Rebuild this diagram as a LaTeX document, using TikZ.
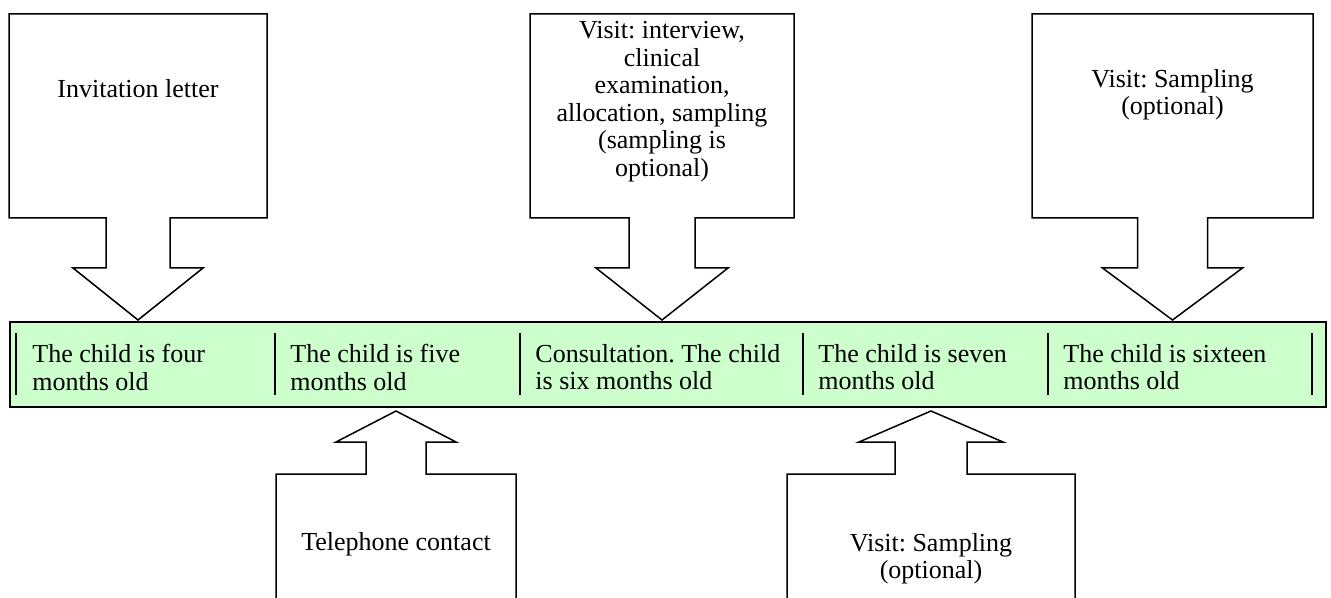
\documentclass[tikz,border=0pt]{standalone}
\usepackage{fontspec}
\setmainfont{Liberation Serif}
\definecolor{barfill}{HTML}{CCFFCC}
\frenchspacing
\begin{document}
\begin{tikzpicture}[x=0.5pt,y=-0.5pt,
  callout/.style={draw=black, line width=0.75pt, fill=white, line join=miter},
  timebar/.style={draw=black, line width=1.2pt, fill=barfill},
  divider/.style={draw=black, line width=1pt},
  lbl/.style={inner sep=0pt, font=\fontsize{13}{13.75}\selectfont, align=center, anchor=north},
  cell/.style={inner sep=0pt, font=\fontsize{13}{13.75}\selectfont, align=left, anchor=north west}]
\useasboundingbox (0,0) rectangle (1331,598);
\clip (0,0) rectangle (1331,598);
% time bar
\draw[timebar] (10,322) rectangle (1326,407);
\foreach \xx in {16,275,520,803,1048,1312}
  \draw[divider] (\xx,333) -- (\xx,395);
\node[cell] (c1) at (32,344) {The child is four\\months old};
\node[cell] (c2) at (290,344) {The child is five\\months old};
\node[cell] (c3) at (535,344) {Consultation. The child\\is six months old};
\node[cell] (c4) at (818,344) {The child is seven\\months old};
\node[cell] (c5) at (1063,344) {The child is sixteen\\months old};
% top callouts
\draw[callout] (9,14) -- (267,14) -- (267,218) -- (170,218) -- (170,268) -- (203,268) -- (138,320) -- (73,268) -- (106,268) -- (106,218) -- (9,218) -- cycle;
\draw[callout] (530,14) -- (794,14) -- (794,218) -- (695,218) -- (695,268) -- (728,268) -- (662,320) -- (596,268) -- (629,268) -- (629,218) -- (530,218) -- cycle;
\draw[callout] (1032,14) -- (1313,14) -- (1313,218) -- (1207.5,218) -- (1207.5,268) -- (1242.5,268) -- (1172.5,320) -- (1102.5,268) -- (1137.5,268) -- (1137.5,218) -- (1032,218) -- cycle;
% bottom callouts
\draw[callout] (276,612) -- (276,474) -- (366,474) -- (366,442) -- (336,442) -- (396,411) -- (456,442) -- (426,442) -- (426,474) -- (516,474) -- (516,612);
\draw[callout] (787,612) -- (787,474) -- (895,474) -- (895,442) -- (859,442) -- (931,411) -- (1003,442) -- (967,442) -- (967,474) -- (1075,474) -- (1075,612);
% callout texts
\node[lbl] (t1) at (138,79) {Invitation letter};
\node[lbl] (t3) at (662,21) {Visit: interview,\\clinical\\examination,\\allocation, sampling\\(sampling is\\optional)};
\node[lbl] (t5) at (1172.5,69) {Visit: Sampling\\(optional)};
\node[lbl] (b2) at (396,532) {Telephone contact};
\node[lbl] (b4) at (931,533) {Visit: Sampling\\(optional)};
\end{tikzpicture}
\end{document}
